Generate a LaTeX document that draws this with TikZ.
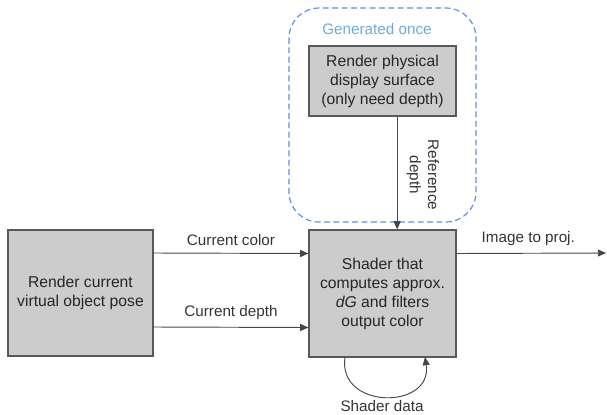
\documentclass[tikz,border=0pt]{standalone}
\usepackage{fontspec}
\setmainfont{Liberation Sans}
\usetikzlibrary{arrows.meta}
\definecolor{boxgray}{HTML}{CCCCCC}
\definecolor{edgegray}{HTML}{595959}
\definecolor{dashblue}{HTML}{5B8FE3}
\definecolor{onceblue}{HTML}{6FA8DC}
\tikzset{
  stage/.style={draw=edgegray, fill=boxgray, line width=1pt, align=center,
    inner sep=0pt, font=\fontsize{13.4}{16.2}\selectfont, text=black!85},
  arr/.style={draw=black!72, line width=0.8pt, -{Triangle[length=7pt,width=6pt]}},
  lbl/.style={font=\fontsize{13}{15.5}\selectfont, text=black!80}
}
\begin{document}
\begin{tikzpicture}[x=0.03cm,y=-0.03cm]
      \useasboundingbox (0,0) rectangle (607,415);
      \draw[dashblue, line width=1pt, dash pattern=on 5pt off 3pt, rounded corners=0.9cm]
      (289,8) rectangle (476,222);
      \node[lbl, text=onceblue] (once) at (377,29) {Generated once};
      \node[stage, minimum width=4.41cm, minimum height=2.1cm] (phys) at (382.5,81)
      {Render physical\\display surface\\(only need depth)};
      \node[stage, minimum width=4.41cm, minimum height=3.81cm] (shader) at (382.5,293.5)
      {Shader that\\computes approx.\\\textit{dG} and filters\\output color};
      \node[stage, minimum width=4.35cm, minimum height=3.78cm] (render) at (80.5,293)
      {Render current\\virtual object pose};
      \coordinate (out) at (606,253);
      \coordinate (loopa) at (345,357);
      \coordinate (loopb) at (425,357);
      \draw[arr] ([xshift=0.44cm]phys.south) -- ([xshift=0.44cm]shader.north);
      \node[lbl, rotate=-90, align=center] (refd) at (423,175) {Reference\\depth};
      \draw[arr] ([yshift=1.2cm]render.east) -- ([yshift=1.2cm]shader.west)
      node[lbl, midway, above=3pt] (colr) {Current color};
      \draw[arr] ([yshift=-1.02cm]render.east) -- ([yshift=-1.02cm]shader.west)
      node[lbl, midway, above=3pt] (dpth) {Current depth};
      \draw[arr] ([yshift=1.2cm]shader.east) -- (out)
      node[lbl, pos=0.48, above=3pt] (proj) {Image to proj.};
      \draw[arr] (loopa) .. controls (337,410) and (433,410) .. (loopb);
      \node[lbl] (sdata) at (382,406) {Shader data};
\end{tikzpicture}
\end{document}
